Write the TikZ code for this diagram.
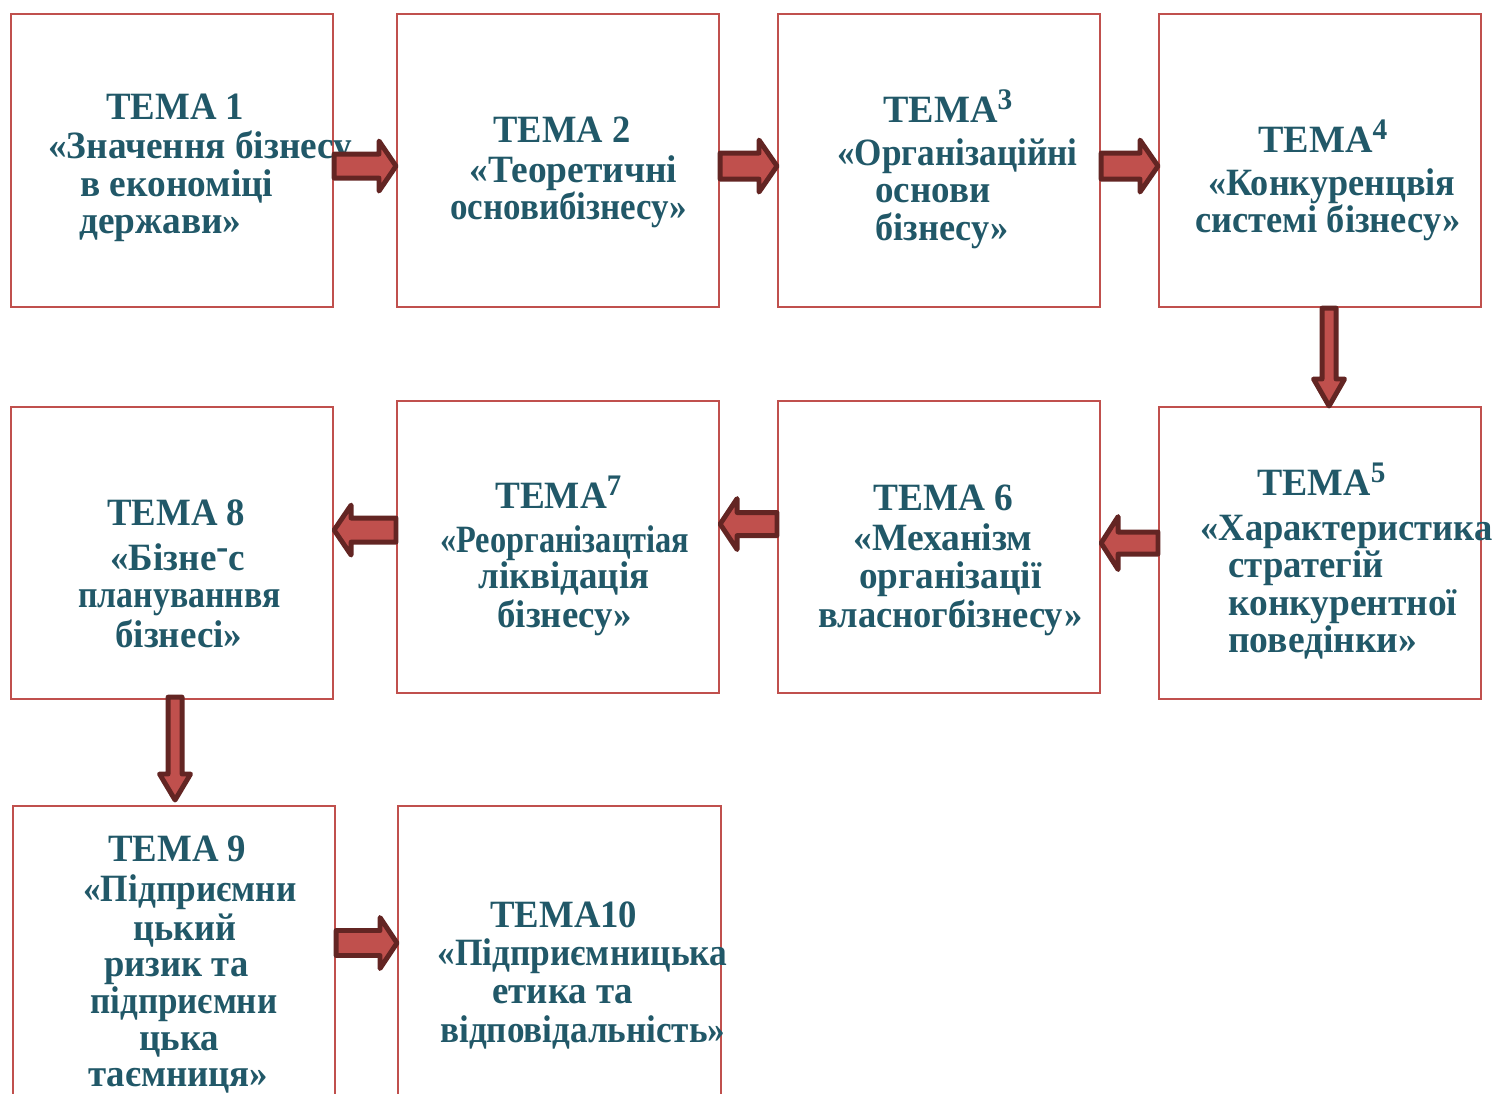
\documentclass[tikz,border=0pt]{standalone}
\usepackage{fontspec}
\setmainfont{Liberation Serif}
\usepackage{graphicx}
\usetikzlibrary{calc}
\definecolor{boxred}{HTML}{C0504D}
\definecolor{arrfill}{HTML}{C0504D}
\definecolor{arrline}{HTML}{632523}
\definecolor{txtcol}{HTML}{215868}
\newdimen\pxl \pxl=0.02cm
\newcommand{\sups}[1]{\raisebox{7pt}{\fontsize{17}{17}\selectfont #1}}
\newcommand{\tline}[5]{\node[txt] (#1) at (#2,#3) {\resizebox{#4\pxl}{\height}{#5}};}
\newcommand{\bx}[5]{\node[box, minimum width=#4\pxl, minimum height=#5\pxl] (#1) at (#2,#3) {};}
% horizontal block arrow: start, end, half shaft, half head, head length (px)
\newcommand{\harr}[5]{%
  \draw[blk] let \p1=#1, \p2=#2, \n1={sign(\x2-\x1)} in
    (\x1,{\y1+#3*0.56906pt}) -- ({\x2-\n1*#5*0.56906pt},{\y1+#3*0.56906pt})
    -- ({\x2-\n1*#5*0.56906pt},{\y1+#4*0.56906pt}) -- (\x2,\y1)
    -- ({\x2-\n1*#5*0.56906pt},{\y1-#4*0.56906pt}) -- ({\x2-\n1*#5*0.56906pt},{\y1-#3*0.56906pt})
    -- (\x1,{\y1-#3*0.56906pt}) -- cycle;}
% vertical block arrow
\newcommand{\varr}[5]{%
  \draw[blk] let \p1=#1, \p2=#2, \n1={sign(\y2-\y1)} in
    ({\x1-#3*0.56906pt},\y1) -- ({\x1-#3*0.56906pt},{\y2-\n1*#5*0.56906pt})
    -- ({\x1-#4*0.56906pt},{\y2-\n1*#5*0.56906pt}) -- (\x1,\y2)
    -- ({\x1+#4*0.56906pt},{\y2-\n1*#5*0.56906pt}) -- ({\x1+#3*0.56906pt},{\y2-\n1*#5*0.56906pt})
    -- ({\x1+#3*0.56906pt},\y1) -- cycle;}
\tikzset{
  box/.style={draw=boxred, line width=1.2pt, fill=white, anchor=north west, inner sep=0pt},
  txt/.style={anchor=base west, inner sep=0pt, text=txtcol, font=\fontsize{22}{22}\selectfont\bfseries},
  blk/.style={fill=arrfill, draw=arrline, line width=2.8pt, line join=round}
}
\begin{document}
\begin{tikzpicture}[x=0.02cm, y=-0.02cm]
\useasboundingbox (0,0) rectangle (1496,1093);
\clip (0,0) rectangle (1496,1093);
% boxes
\bx{b1}{10}{13}{322}{293}
\bx{b2}{396}{13}{322}{293}
\bx{b3}{777}{13}{322}{293}
\bx{b4}{1158}{13}{322}{293}
\bx{b5}{1158}{406}{322}{292}
\bx{b6}{777}{400}{322}{292}
\bx{b7}{396}{400}{322}{292}
\bx{b8}{10}{406}{322}{292}
\bx{b9}{12}{805}{322}{310}
\bx{b10}{397}{805}{323}{310}
% box 1
\tline{t1a}{106}{119}{138}{ТЕМА 1}
\tline{t1b}{48}{158}{304}{«Значення бізнесу}
\tline{t1c}{80}{196}{193}{в економіці}
\tline{t1d}{79}{233}{162}{держави»}
% box 2
\tline{t2a}{493}{142}{137}{ТЕМА 2}
\tline{t2b}{469}{182}{208}{«Теоретичні}
\tline{t2c}{450}{219}{237}{основибізнесу»}
% box 3
\tline{t3a}{883}{122}{129}{ТЕМА\sups{3}}
\tline{t3b}{837}{165}{240}{«Організаційні}
\tline{t3c}{875}{202}{115}{основи}
\tline{t3d}{875}{240}{133}{бізнесу»}
% box 4
\tline{t4a}{1258}{152}{129}{ТЕМА\sups{4}}
\tline{t4b}{1208}{195}{247}{«Конкуренцвія}
\tline{t4c}{1195}{232}{265}{системі бізнесу»}
% box 5
\tline{t5a}{1257}{495}{128}{ТЕМА\sups{5}}
\tline{t5b}{1200}{540}{292}{«Характеристика}
\tline{t5c}{1228}{577}{155}{стратегій}
\tline{t5d}{1228}{615}{229}{конкурентної}
\tline{t5e}{1228}{652}{189}{поведінки»}
% box 6
\tline{t6a}{873}{510}{140}{ТЕМА 6}
\tline{t6b}{853}{550}{179}{«Механізм}
\tline{t6c}{859}{588}{182}{організації}
\tline{t6d}{818}{627}{264}{власног\rlap{о}бізнесу»}
% box 7
\tline{t7a}{495}{508}{126}{ТЕМА\sups{7}}
\tline{t7b}{440}{552}{249}{«Реорганізацтіая}
\tline{t7c}{478}{588}{171}{ліквідація}
\tline{t7d}{497}{627}{135}{бізнесу»}
% box 8
\tline{t8a}{107}{525}{138}{ТЕМА 8}
\tline{t8b}{110}{570}{135}{«Бізне\raisebox{.28em}{-}с}
\tline{t8c}{78}{607}{202}{плануваннвя}
\tline{t8d}{115}{647}{127}{бізнесі»}
% box 9
\tline{t9a}{108}{861}{138}{ТЕМА 9}
\tline{t9b}{83}{901}{213}{«Підприємни}
\tline{t9c}{133}{940}{103}{цький}
\tline{t9d}{104}{976}{144}{ризик та}
\tline{t9e}{90}{1013}{187}{підприємни}
\tline{t9f}{139}{1050}{80}{цька}
\tline{t9g}{88}{1086}{180}{таємниця»}
% box 10
\tline{t10a}{490}{927}{147}{ТЕМА10}
\tline{t10b}{437}{965}{290}{«Підприємницька}
\tline{t10c}{492}{1003}{141}{етика та}
\tline{t10d}{440}{1042}{285}{відповідальність»}
% arrows
\harr{($(b1.east)+(0,5.5)$)}{(b2.west)}{12}{25}{17}
\harr{($(b2.east)+(0,5.5)$)}{(b3.west)}{13}{26}{18}
\harr{($(b3.east)+(0,5.5)$)}{(b4.west)}{13}{26}{18}
\varr{($(b4.south)+(9,0)$)}{(b5.north)}{7}{15.5}{27}
\harr{($(b5.west)+(0,-10)$)}{(b6.east)}{11}{26.5}{17}
\harr{($(b6.west)+(0,-23)$)}{(b7.east)}{11.5}{25.5}{17}
\harr{($(b7.west)+(0,-17)$)}{(b8.east)}{12}{25}{17}
\varr{($(b8.south)+(3,-3)$)}{($(b9.north)+(0,-5)$)}{7}{15.5}{26}
\harr{($(b9.north east)+(0,138)$)}{(b10.west)}{12.5}{25.5}{17}
\end{tikzpicture}
\end{document}
